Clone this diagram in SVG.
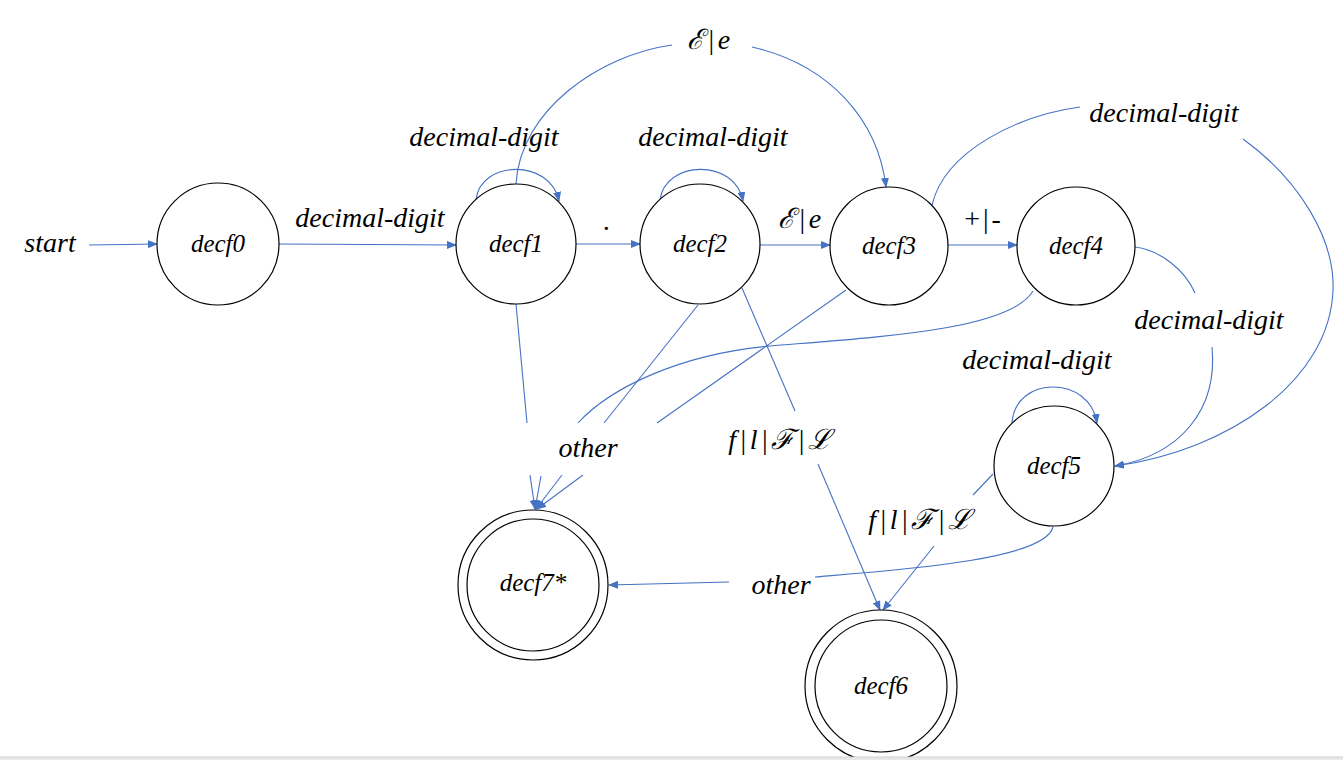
<svg xmlns="http://www.w3.org/2000/svg" width="1343" height="760" viewBox="0 0 1343 760">
<defs>
<marker id="arr" markerUnits="userSpaceOnUse" markerWidth="10" markerHeight="8" refX="9" refY="4" orient="auto">
<path d="M0,0 L10,4 L0,8 z" fill="#4472C4"/>
</marker>
<style>
.n{fill:#fff;stroke:#000;stroke-width:1.2}
.nt{font-family:"Liberation Serif",serif;font-style:italic;font-size:25px;text-anchor:middle;fill:#000}
.e{fill:none;stroke:#4472C4;stroke-width:1.1}
.a{marker-end:url(#arr)}
.l{font-family:"Liberation Serif",serif;font-style:italic;font-size:28px;text-anchor:middle;fill:#000}
.s{letter-spacing:3px}
</style>
</defs>
<rect width="1343" height="760" fill="#fff"/>
<g id="connectors">
<path class="e a" d="M89,245 L157,244"/>
<path class="e a" d="M279,244 L456,245"/>
<path class="e a" d="M576,244 L640,244"/>
<path class="e a" d="M760,245 L830,245"/>
<path class="e a" d="M948,245 L1017,245"/>
<path class="e a" d="M476,200 C480,160 550,158 559,201"/>
<path class="e a" d="M660,200 C665,160 735,158 743,201"/>
<path class="e a" d="M1012,423 C1015,375 1090,375 1097,423"/>
<path class="e" d="M516,184 C520,110 600,55 672,45"/>
<path class="e a" d="M752,47 C830,65 878,120 886,187"/>
<path class="e" d="M932,205 C945,150 1020,115 1080,107"/>
<path class="e a" d="M1243,139 C1300,180 1335,240 1333,290 C1330,380 1230,450 1115,466"/>
<path class="e" d="M1135,247 C1160,250 1185,270 1195,293"/>
<path class="e a" d="M1212,347 C1218,410 1180,455 1115,466"/>
<path class="e" d="M993,474 L973,495"/>
<path class="e a" d="M934,546 L883,610"/>
<path class="e" d="M742,288 L795,411"/>
<path class="e a" d="M818,464 L880,610"/>
<path class="e" d="M1053,527 C1045,560 900,570 815,577"/>
<path class="e a" d="M729,582 L609,585"/>
<path class="e" d="M516,304 L527,423"/>
<path class="e a" d="M530,475 L535,509"/>
<path class="e" d="M1033,291 C1010,330 880,337 770,346 C680,354 610,388 578,423"/>
<path class="e a" d="M541,476 L535,509"/>
<path class="e" d="M698,305 L604,423"/>
<path class="e a" d="M562,475 L536,509"/>
<path class="e" d="M846,290 L657,423"/>
<path class="e a" d="M583,475 L537,509"/>
</g>
<g id="labels">
<text class="l" x="50" y="252">start</text>
<text class="l" x="370" y="227">decimal-digit</text>
<text class="l" x="607" y="230">.</text>
<text class="l s" x="801" y="228">ℰ|e</text>
<text class="l s" x="984" y="228" style="font-style:normal">+|-</text>
<text class="l" x="484" y="146">decimal-digit</text>
<text class="l" x="713" y="146">decimal-digit</text>
<text class="l s" x="710" y="49">ℰ|e</text>
<text class="l" x="1164" y="122">decimal-digit</text>
<text class="l" x="1209" y="329">decimal-digit</text>
<text class="l" x="1037" y="369">decimal-digit</text>
<text class="l" x="588" y="457">other</text>
<text class="l" x="781" y="594">other</text>
<text class="l s" x="781" y="449">f|l|ℱ|ℒ</text>
<text class="l s" x="921" y="529">f|l|ℱ|ℒ</text>
</g>
<g id="decf0"><circle class="n" cx="218" cy="244" r="61"/><text class="nt" x="218" y="252">decf0</text></g>
<g id="decf1"><circle class="n" cx="516" cy="244" r="60"/><text class="nt" x="516" y="252">decf1</text></g>
<g id="decf2"><circle class="n" cx="700" cy="244" r="60"/><text class="nt" x="700" y="252">decf2</text></g>
<g id="decf3"><circle class="n" cx="889" cy="246" r="59"/><text class="nt" x="889" y="254">decf3</text></g>
<g id="decf4"><circle class="n" cx="1076" cy="246" r="59"/><text class="nt" x="1076" y="254">decf4</text></g>
<g id="decf5"><circle class="n" cx="1054" cy="466" r="60"/><text class="nt" x="1054" y="474">decf5</text></g>
<g id="decf7"><circle class="n" cx="533" cy="585" r="75"/><circle class="n" cx="533" cy="585" r="66"/><text class="nt" x="533" y="591">decf7*</text></g>
<g id="decf6"><circle class="n" cx="881" cy="686" r="76"/><circle class="n" cx="881" cy="686" r="66"/><text class="nt" x="881" y="694">decf6</text></g>
<rect x="0" y="757" width="1343" height="3" fill="#e8e8e8"/>
<line x1="0" y1="757" x2="1343" y2="757" stroke="#cfcfcf" stroke-width="1"/>
</svg>
